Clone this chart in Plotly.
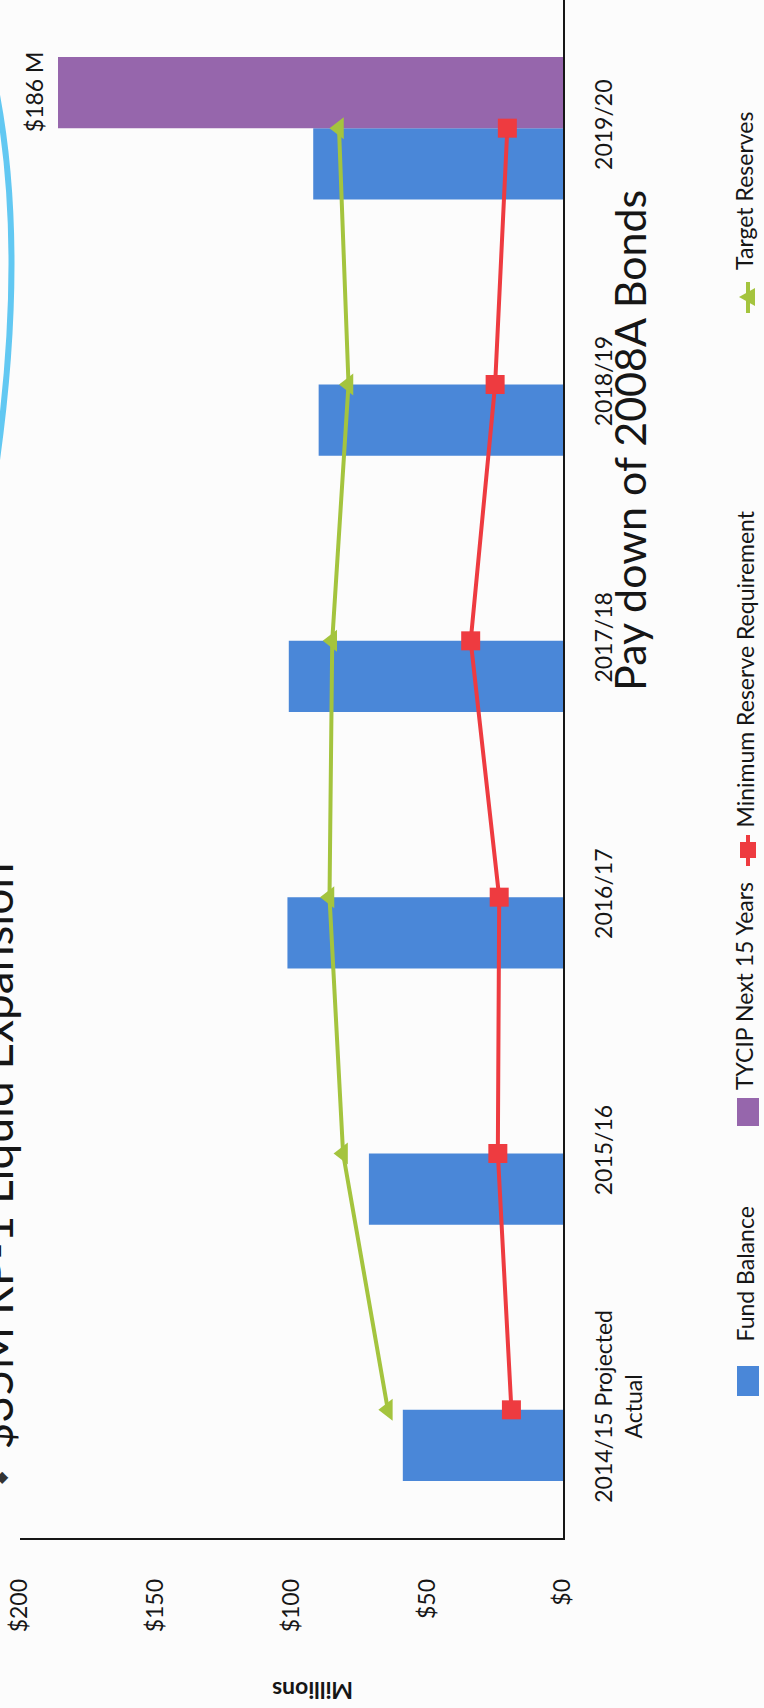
import plotly.graph_objects as go

# ---- data (millions of dollars) ----
categories = ["2014/15 Projected<br>Actual", "2015/16", "2016/17", "2017/18", "2018/19", "2019/20"]
fund_balance = [59, 71.5, 101.5, 101, 90, 92]
tycip_next_15 = [None, None, None, None, None, 186]
min_reserve = [19, 24, 23.5, 34, 25, 20.5]
target_reserves = [64.5, 81, 86, 85, 79, 82.5]
value_ticks = [0, 50, 100, 150, 200]
value_tick_labels = ["$0", "$50", "$100", "$150", "$200"]
tycip_label = "$186 M"

series_names = ["Fund Balance", "TYCIP Next 15 Years", "Minimum Reserve Requirement", "Target Reserves"]

# ---- styling ----
W, H = 764, 1708
PL, PR, PT, PB = 20, 563, 0, 1538          # plot area in pixels
BLUE = "#4a87d8"
PURPLE = "#9666ac"
RED = "#ee3b40"
GREEN = "#a4c43e"
INK = "#161616"
FONT = "Lato, 'Liberation Sans', sans-serif"


def fx(x):
    return (x - PL) / (PR - PL)


def fy(y):
    return (PB - y) / (PB - PT)


fig = go.Figure()

fig.add_trace(go.Bar(
    y=categories, x=fund_balance, orientation="h", name=series_names[0],
    marker=dict(color=BLUE, line=dict(width=0)),
))
fig.add_trace(go.Bar(
    y=categories, x=tycip_next_15, orientation="h", name=series_names[1],
    marker=dict(color=PURPLE, line=dict(width=0)),
))
fig.add_trace(go.Scatter(
    y=categories, x=min_reserve, mode="lines+markers", name=series_names[2],
    line=dict(color=RED, width=4),
    marker=dict(symbol="square", size=19, color=RED),
))
fig.add_trace(go.Scatter(
    y=categories, x=target_reserves, mode="lines+markers", name=series_names[3],
    line=dict(color=GREEN, width=4),
    marker=dict(symbol="triangle-left", size=19, color=GREEN),
))

annotations = []
shapes = []

# value label at the end of the TYCIP bar
annotations.append(dict(
    x=tycip_next_15[-1], y=categories[-1], xref="x", yref="y",
    text=tycip_label, showarrow=False, textangle=-90,
    xanchor="center", yanchor="middle",
    xshift=-24, yshift=36, font=dict(family=FONT, size=23, color=INK),
))

# value axis title
annotations.append(dict(
    x=fx(313), y=fy(1691), xref="paper", yref="paper", text="<b>Millions</b>",
    showarrow=False, textangle=180, xanchor="center", yanchor="middle",
    font=dict(family=FONT, size=23, color=INK),
))

# slide heading (runs off the left edge)
annotations.append(dict(
    x=fx(-5), y=fy(1452), xref="paper", yref="paper",
    text="$35M RP-1 Liquid Expansion", showarrow=False, textangle=-90,
    xanchor="center", yanchor="bottom",
    font=dict(family=FONT, size=46, color=INK),
))
annotations.append(dict(
    x=fx(3), y=fy(1476), xref="paper", yref="paper", text="◆",
    showarrow=False, xanchor="center", yanchor="middle",
    font=dict(family="DejaVu Sans", size=16, color="#333"),
))

# callout text
annotations.append(dict(
    x=fx(630), y=fy(441), xref="paper", yref="paper",
    text="Pay down of 2008A Bonds", showarrow=False, textangle=-90,
    xanchor="center", yanchor="middle",
    font=dict(family=FONT, size=43, color=INK),
))

# legend, drawn bottom to top
LX = 748
legend_items = [
    # name, text start y
    (series_names[0], 1344),
    (series_names[1], 1092),
    (series_names[2], 830),
    (series_names[3], 272),
]
for name, ty in legend_items:
    annotations.append(dict(
        x=fx(744), y=fy(ty), xref="paper", yref="paper", text=name,
        showarrow=False, textangle=-90, xanchor="center", yanchor="bottom",
        font=dict(family=FONT, size=23, color=INK),
    ))

# Fund Balance swatch
shapes.append(dict(type="rect", xref="paper", yref="paper",
                   x0=fx(LX - 11), x1=fx(LX + 11), y0=fy(1381 + 15), y1=fy(1381 - 15),
                   fillcolor=BLUE, line=dict(width=0)))
# TYCIP swatch
shapes.append(dict(type="rect", xref="paper", yref="paper",
                   x0=fx(LX - 11), x1=fx(LX + 11), y0=fy(1112 + 14), y1=fy(1112 - 14),
                   fillcolor=PURPLE, line=dict(width=0)))
# Minimum reserve: line + square
shapes.append(dict(type="line", xref="paper", yref="paper",
                   x0=fx(LX), x1=fx(LX), y0=fy(835), y1=fy(866),
                   line=dict(color=RED, width=4)))
shapes.append(dict(type="rect", xref="paper", yref="paper",
                   x0=fx(LX - 8), x1=fx(LX + 8), y0=fy(858), y1=fy(842),
                   fillcolor=RED, line=dict(width=0)))
# Target reserves: line + triangle
shapes.append(dict(type="line", xref="paper", yref="paper",
                   x0=fx(LX), x1=fx(LX), y0=fy(282), y1=fy(313),
                   line=dict(color=GREEN, width=4)))
tri = [(LX - 9, 297), (LX + 7, 288), (LX + 7, 306)]
shapes.append(dict(type="path", xref="paper", yref="paper",
                   path="M {} {} L {} {} L {} {} Z".format(
                       fx(tri[0][0]), fy(tri[0][1]), fx(tri[1][0]), fy(tri[1][1]),
                       fx(tri[2][0]), fy(tri[2][1])),
                   fillcolor=GREEN, line=dict(width=0)))

# decorative arc at the slide edge
arc = [(-3, 95), (26, 250), (-3, 460)]
shapes.append(dict(type="path", xref="paper", yref="paper",
                   path="M {} {} Q {} {} {} {}".format(
                       fx(arc[0][0]), fy(arc[0][1]), fx(arc[1][0]), fy(arc[1][1]),
                       fx(arc[2][0]), fy(arc[2][1])),
                   line=dict(color="#62c8f2", width=6), layer="below"))

fig.update_layout(
    width=W, height=H,
    margin=dict(l=PL, r=W - PR, t=PT, b=H - PB, pad=0),
    paper_bgcolor="#fcfcfc", plot_bgcolor="rgba(0,0,0,0)",
    barmode="group", bargap=0.444, bargroupgap=0,
    showlegend=False,
    font=dict(family=FONT, color=INK),
    annotations=annotations, shapes=shapes,
    xaxis=dict(
        range=[200, 0], showgrid=False, zeroline=False,
        showline=True, linecolor=INK, linewidth=1.5,
        tickvals=value_ticks, ticktext=value_tick_labels,
        tickangle=-90, ticks="", ticklabelstandoff=30,
        tickfont=dict(family=FONT, size=23, color=INK),
    ),
    yaxis=dict(
        side="right", type="category", categoryorder="array", categoryarray=categories,
        showgrid=False, zeroline=False,
        showline=True, linecolor=INK, linewidth=1.5,
        tickangle=-90, ticks="", ticklabelstandoff=20,
        tickfont=dict(family=FONT, size=23, color=INK),
    ),
)

fig.write_html("out.html")
